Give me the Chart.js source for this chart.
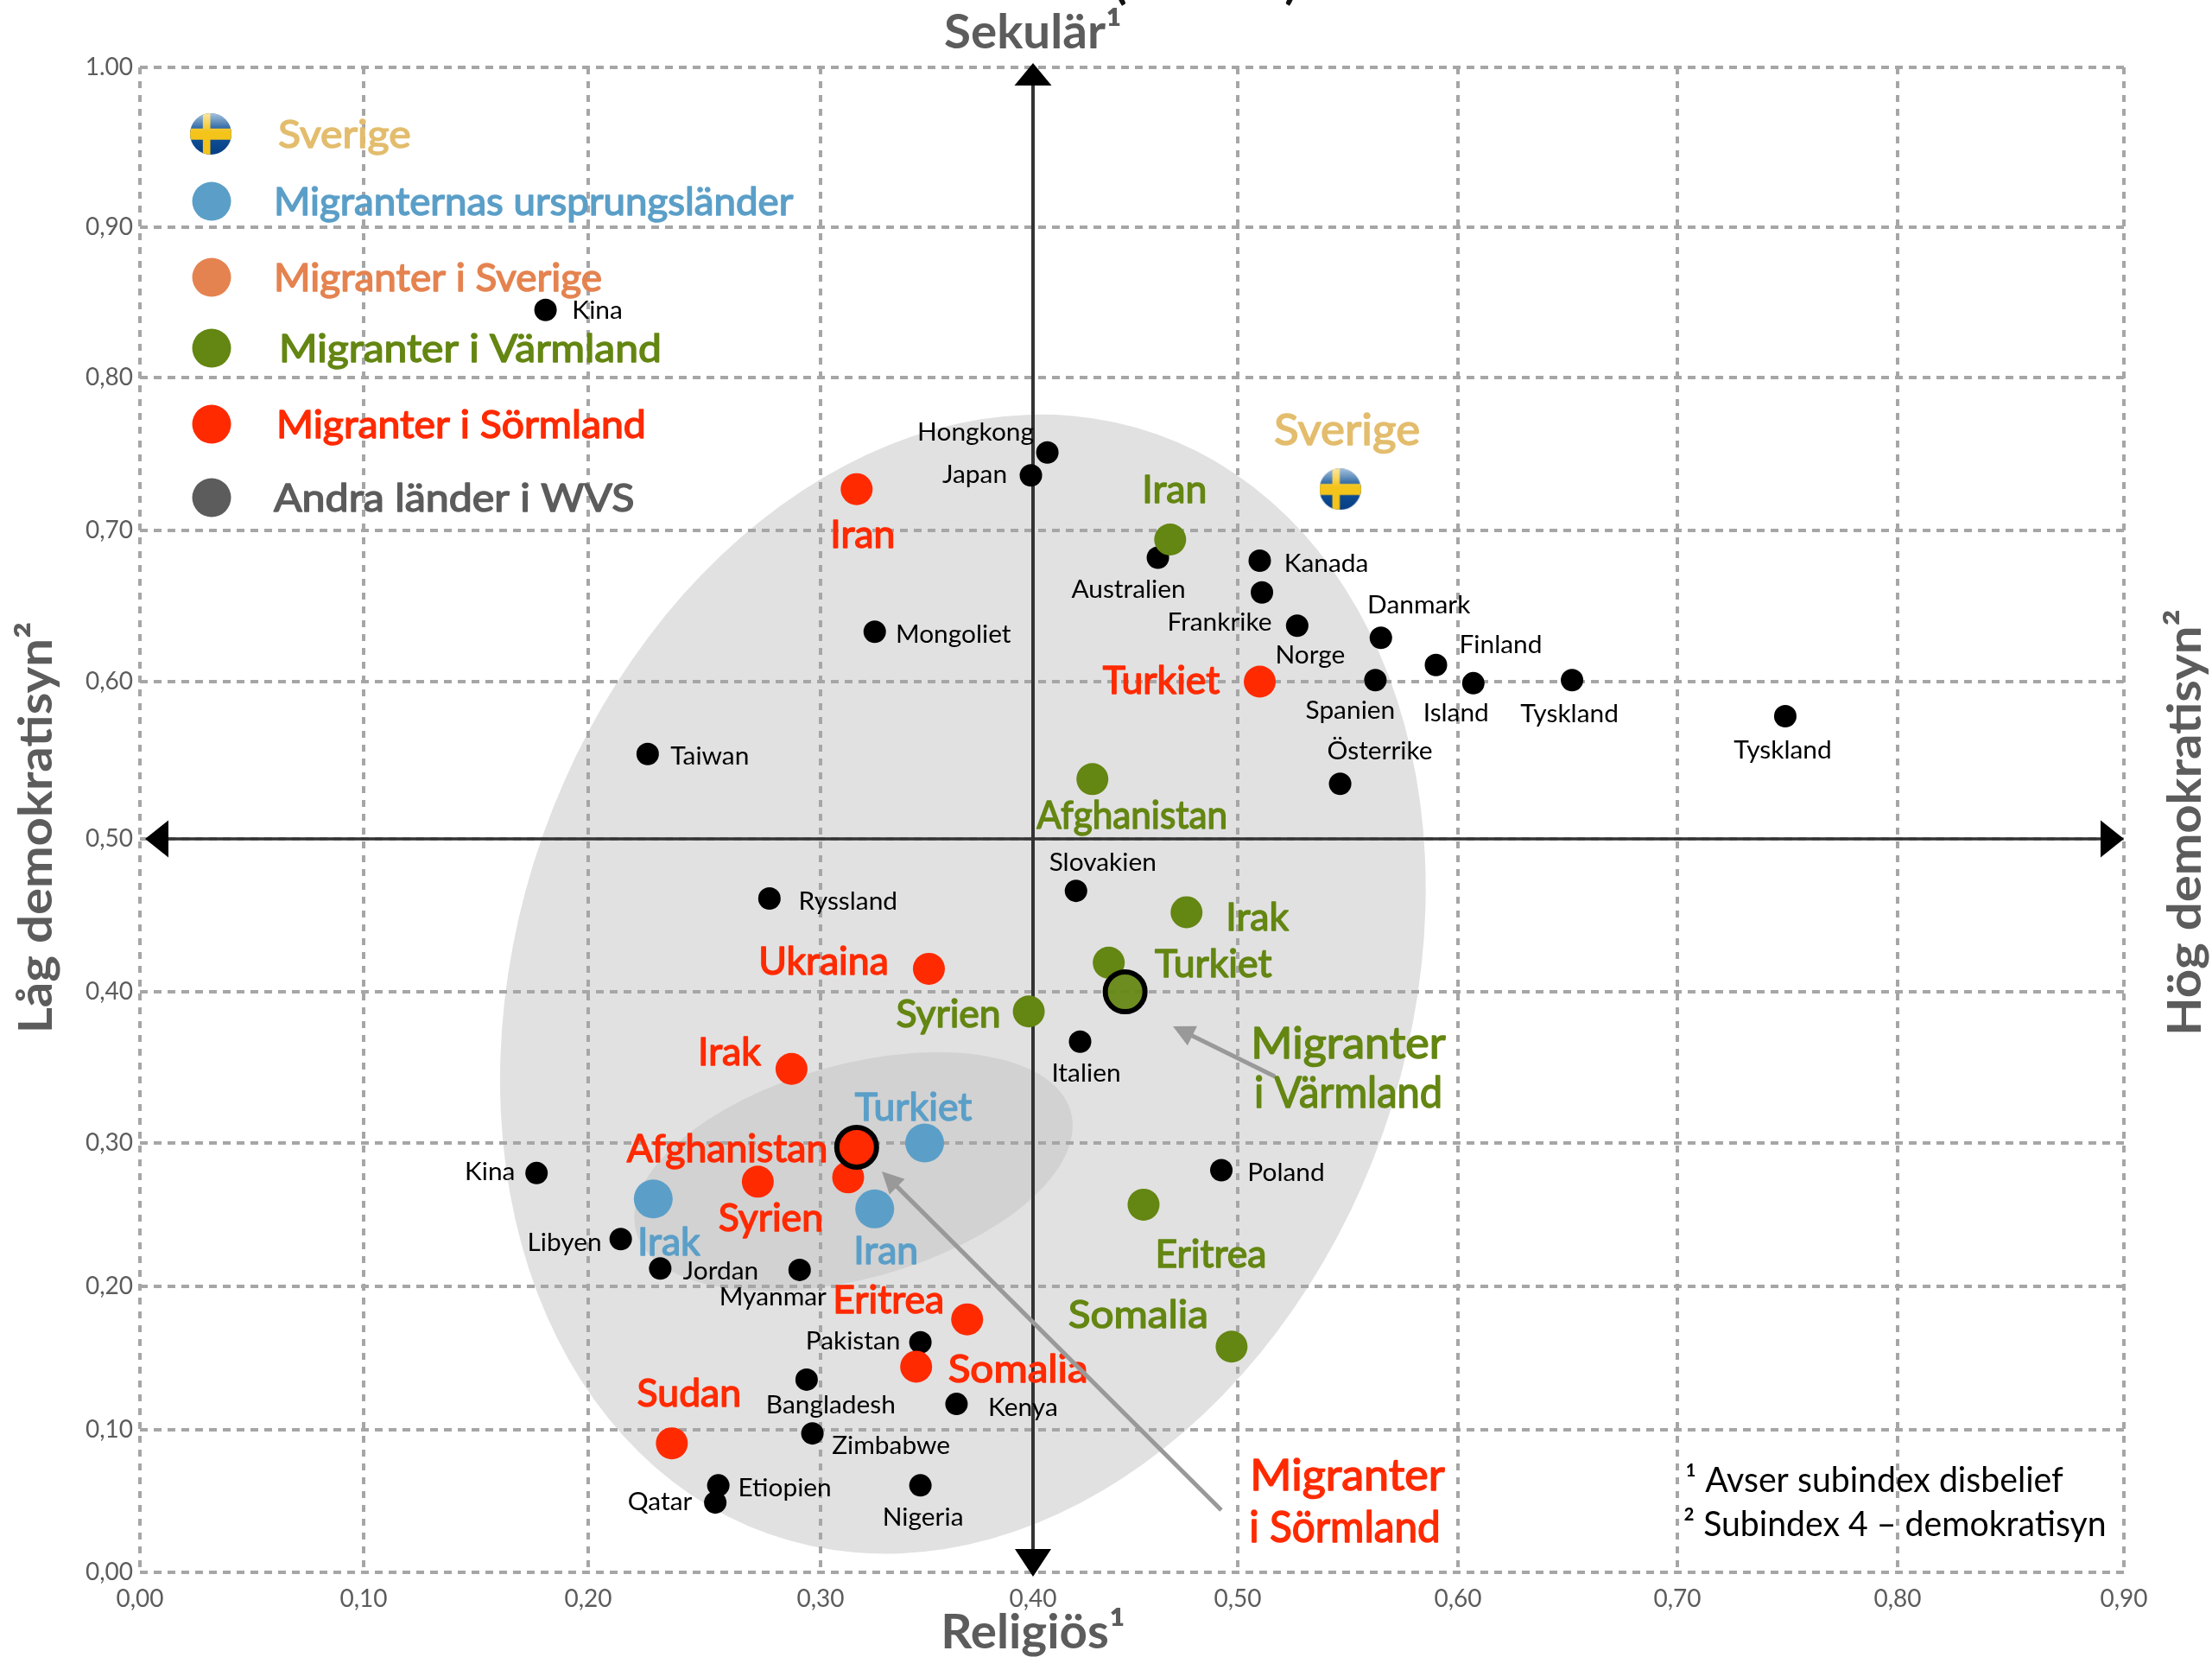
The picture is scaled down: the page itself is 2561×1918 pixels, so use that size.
<!DOCTYPE html>
<html lang="sv">
<head>
<meta charset="UTF-8">
<title>Sekulär / demokratisyn</title>
<script src="https://cdn.jsdelivr.net/npm/chart.js"></script>
<style>
  html, body { margin: 0; background: #fff; }
  canvas { display: block; }
</style>
</head>
<body>
<canvas id="chart" width="2561" height="1918"></canvas>
<script>
// tick labels, as printed in the picture (the top one really has a dot)
const xTickLabels = ['0,00','0,10','0,20','0,30','0,40','0,50','0,60','0,70','0,80','0,90'];
const yTickLabels = ['0,00','0,10','0,20','0,30','0,40','0,50','0,60','0,70','0,80','0,90','1.00'];

// andra länder i WVS
const wvsNames = ['Kina','Hongkong','Japan','Australien','Kanada','Frankrike','Norge','Danmark','Finland','Island','Tyskland','Tyskland','Spanien','Österrike','Mongoliet','Taiwan','Ryssland','Slovakien','Italien','Poland','Kina','Libyen','Jordan','Myanmar','Pakistan','Bangladesh','Kenya','Zimbabwe','Etiopien','Qatar','Nigeria'];
const wvsX = [.181,.407,.399,.461,.510,.511,.527,.565,.590,.607,.652,.749,.5625,.5465,.3255,.2256,.278,.421,.423,.492,.177,.214,.231,.291,.347,.294,.364,.2965,.256,.2547,.347];
const wvsY = [.845,.751,.736,.682,.680,.659,.637,.629,.611,.599,.601,.578,.601,.535,.633,.554,.461,.466,.367,.281,.279,.233,.2125,.2115,.161,.135,.118,.0975,.061,.049,.061];

const originNames = ['Turkiet','Irak','Iran'];
const originX = [.349,.228,.3255];
const originY = [.300,.261,.254];

const varmlandNames = ['Iran','Afghanistan','Irak','Turkiet','Syrien','Eritrea','Somalia'];
const varmlandX = [.467,.429,.475,.437,.398,.454,.497];
const varmlandY = [.694,.538,.452,.419,.387,.257,.158];

const sormlandNames = ['Iran','Turkiet','Ukraina','Irak','Syrien','Afghanistan','Eritrea','Somalia','Sudan'];
const sormlandX = [.317,.510,.351,.2875,.273,.313,.369,.345,.236];
const sormlandY = [.727,.600,.415,.349,.273,.276,.177,.144,.0905];

const sverigeX = [.5465];
const sverigeY = [.727];

// medelvärden med svart ring
const meanVarmlandX = [.445];
const meanVarmlandY = [.400];
const meanSormlandX = [.317];
const meanSormlandY = [.297];

const legendNames = ['Sverige','Migranternas ursprungsländer','Migranter i Sverige','Migranter i Värmland','Migranter i Sörmland','Andra länder i WVS'];

// ---------- styling / layout below here ----------
const GOLD = '#e3bd6d', BLUE = '#5b9fc8', ORANGE = '#e58350', GREEN = '#648612', RED = '#ff2a00', GREY = '#5c5c5c';
const FONT = 'Lato';

// the grid in the original isn't evenly spaced, so keep where each tick sits
const gridPixels = {
  x: [162, 421, 681, 950, 1196, 1433, 1688, 1942, 2197, 2459],
  y: [1820, 1655, 1489, 1323, 1148, 971, 789, 614, 437, 263, 78]
};

class GridScale extends Chart.LinearScale {
  static id = 'gridscale';
  static defaults = Chart.LinearScale.defaults;
  getPixelForValue(value) {
    const k = gridPixels[this.id];
    const pos = value / 0.1;
    const i = Math.max(0, Math.min(k.length - 2, Math.floor(pos)));
    const px = k[i] + (k[i + 1] - k[i]) * (pos - i);
    return this.getPixelForDecimal((px - k[0]) / (k[k.length - 1] - k[0]));
  }
}
Chart.register(GridScale);

// label offset from its point, [dx, dy] to the middle of the text
const wvsOffsets = [[60,0],[-83,-24],[-65,-2],[-34,36],[77,2],[-49,34],[15,33],[44,-39],[75,-24],[-20,34],[-3,38],[-3,38],[-29,34],[46,-39],[91,2],[72,2],[91,2],[31,-34],[7,36],[75,2],[-54,-2],[-65,3],[70,2],[-31,31],[-78,-2],[28,29],[77,3],[91,13],[77,2],[-64,-2],[3,36]];
const originOffsets = [[-13,-42],[18,49],[13,47]];
const varmlandOffsets = [[5,-59],[46,41],[82,5],[121,0],[-93,2],[78,56],[-108,-38]];
const sormlandOffsets = [[7,51],[-114,-2],[-122,-10],[-72,-21],[15,41],[-140,-34],[-91,-23],[118,2],[20,-59]];

function flagCanvas(r) {
  const c = document.createElement('canvas');
  c.width = c.height = r * 2;
  const g = c.getContext('2d');
  g.beginPath();
  g.arc(r, r, r, 0, Math.PI * 2);
  g.clip();
  const bg = g.createLinearGradient(0, 0, 0, r * 2);
  bg.addColorStop(0, '#1f64a6');
  bg.addColorStop(1, '#063f86');
  g.fillStyle = bg;
  g.fillRect(0, 0, r * 2, r * 2);
  g.fillStyle = '#f4c41a';
  g.fillRect(r * 0.62, 0, r * 0.36, r * 2);
  g.fillRect(0, r * 0.74, r * 2, r * 0.54);
  const shine = g.createLinearGradient(0, 0, 0, r * 0.9);
  shine.addColorStop(0, 'rgba(255,255,255,.6)');
  shine.addColorStop(1, 'rgba(255,255,255,0)');
  g.fillStyle = shine;
  g.fillRect(0, 0, r * 2, r * 0.9);
  return c;
}
const flagPoint = flagCanvas(24);

function pts(xs, ys) {
  return xs.map((x, i) => ({ x: x, y: ys[i] }));
}

// text squeezed sideways, the original font (Gill Sans) has other widths than Lato.
// Big coloured labels get a thin outline since the original is heavier
function putText(ctx, text, x, y, size, color, squeeze, weight) {
  ctx.save();
  ctx.translate(x, y + size * 0.04);
  ctx.scale(squeeze, 1);
  ctx.font = (weight || 'normal') + ' ' + size + 'px ' + FONT;
  ctx.fillStyle = color;
  ctx.textBaseline = 'middle';
  ctx.fillText(text, 0, 0);
  if (size >= 44 && !weight) {
    ctx.strokeStyle = color;
    ctx.lineWidth = 1.5;
    ctx.lineJoin = 'round';
    ctx.strokeText(text, 0, 0);
  }
  ctx.restore();
}

function centerText(ctx, text, x, y, size, color, squeeze, weight) {
  ctx.save();
  ctx.textAlign = 'center';
  putText(ctx, text, x, y, size, color, squeeze, weight);
  ctx.restore();
}

function arrow(ctx, x1, y1, x2, y2, color, headColor, width, head, halfWidth) {
  const a = Math.atan2(y2 - y1, x2 - x1);
  ctx.save();
  ctx.strokeStyle = color;
  ctx.fillStyle = headColor;
  ctx.lineWidth = width;
  ctx.beginPath();
  ctx.moveTo(x1, y1);
  ctx.lineTo(x2 - Math.cos(a) * head * 0.8, y2 - Math.sin(a) * head * 0.8);
  ctx.stroke();
  ctx.translate(x2, y2);
  ctx.rotate(a);
  ctx.beginPath();
  ctx.moveTo(0, 0);
  ctx.lineTo(-head, -halfWidth);
  ctx.lineTo(-head, halfWidth);
  ctx.closePath();
  ctx.fill();
  ctx.restore();
}

const backdrop = {
  id: 'backdrop',
  beforeDraw(chart) {
    const ctx = chart.ctx, xs = chart.scales.x, ys = chart.scales.y;
    ctx.save();
    ctx.fillStyle = '#e1e1e1';
    ctx.beginPath();
    ctx.ellipse(xs.getPixelForValue(.367), ys.getPixelForValue(.405), 675, 516, -70.6 * Math.PI / 180, 0, Math.PI * 2);
    ctx.fill();
    ctx.fillStyle = '#d2d2d2';
    ctx.beginPath();
    ctx.ellipse(xs.getPixelForValue(.3155), ys.getPixelForValue(.280), 261, 124, -15.4 * Math.PI / 180, 0, Math.PI * 2);
    ctx.fill();
    ctx.restore();
  }
};

const overlay = {
  id: 'overlay',
  beforeDatasetsDraw(chart) {
    const ctx = chart.ctx, xs = chart.scales.x, ys = chart.scales.y;
    // the two main axes crossing at 0,40 / 0,50
    const cx = xs.getPixelForValue(.40), cy = ys.getPixelForValue(.50);
    arrow(ctx, cx, cy, cx, 73, '#333', '#000', 4, 26, 21.5);
    arrow(ctx, cx, cy, cx, 1825, '#333', '#000', 4, 32, 21);
    arrow(ctx, cx, cy, 168, cy, '#333', '#000', 3.5, 27, 21.5);
    arrow(ctx, cx, cy, 2459, cy, '#333', '#000', 3.5, 27, 21.5);
  },
  afterDatasetsDraw(chart) {
    const ctx = chart.ctx, xs = chart.scales.x, ys = chart.scales.y;

    function labels(names, xv, yv, off, size, color, squeeze) {
      names.forEach((n, i) => {
        // Somalia runs wider in the original, green Afghanistan narrower
        let sq = squeeze;
        if (n === 'Somalia') sq = 1.06;
        if (n === 'Afghanistan' && color === GREEN) sq = 0.94;
        centerText(ctx, n, xs.getPixelForValue(xv[i]) + off[i][0], ys.getPixelForValue(yv[i]) + off[i][1], size, color, sq);
      });
    }
    labels(wvsNames, wvsX, wvsY, wvsOffsets, 29, '#000', 1.03);
    labels(originNames, originX, originY, originOffsets, 45, BLUE, 0.99);
    labels(varmlandNames, varmlandX, varmlandY, varmlandOffsets, 45, GREEN, 0.99);
    labels(sormlandNames, sormlandX, sormlandY, sormlandOffsets, 45, RED, 0.99);
    centerText(ctx, 'Sverige', xs.getPixelForValue(sverigeX[0]) + 8, ys.getPixelForValue(sverigeY[0]) - 69, 50, GOLD, 1.06);

    // callouts
    centerText(ctx, 'Migranter', 1561, 1207, 50, GREEN, 1.04);
    centerText(ctx, 'i Värmland', 1561, 1264, 50, GREEN, 0.94);
    centerText(ctx, 'Migranter', 1560, 1707, 50, RED, 1.04);
    centerText(ctx, 'i Sörmland', 1557, 1767, 50, RED, 0.955);
    arrow(ctx, 1476, 1246, 1358, 1188, '#999', '#999', 5, 25, 12.5);
    arrow(ctx, 1414, 1748, 1021, 1356, '#999', '#999', 5, 25, 12.5);

    // legend, hand placed in the upper left
    const legendY = [155, 233, 321, 403, 491, 576];
    const legendTextX = [322, 317, 317, 323, 320, 317];
    const legendSqueeze = [1.07, 1.015, 1.02, 1.066, 1.03, 1.074];
    const legendColor = [GOLD, BLUE, ORANGE, GREEN, RED, GREY];
    legendNames.forEach((n, i) => {
      if (i === 0) {
        ctx.drawImage(flagPoint, 244 - 24, legendY[i] - 24);
      } else {
        ctx.fillStyle = legendColor[i];
        ctx.beginPath();
        ctx.arc(245, legendY[i], 22.5, 0, Math.PI * 2);
        ctx.fill();
      }
      putText(ctx, n, legendTextX[i], legendY[i], 45, legendColor[i], legendSqueeze[i]);
    });

    // axis titles
    centerText(ctx, 'Sekulär¹', 1196, 36, 56, GREY, 1.01, 'bold');
    centerText(ctx, 'Religiös¹', 1196, 1888, 56, GREY, 1.01, 'bold');
    [['Låg demokratisyn²', 40, 958], ['Hög demokratisyn²', 2528, 952]].forEach(t => {
      ctx.save();
      ctx.translate(t[1], t[2]);
      ctx.rotate(-Math.PI / 2);
      centerText(ctx, t[0], 0, 0, 54, GREY, 1.075, 'bold');
      ctx.restore();
    });

    // tips of the cropped brackets above the chart
    centerText(ctx, '(', 1297, -22, 56, '#111', 1, 'bold');
    centerText(ctx, ')', 1495, -22, 56, '#111', 1, 'bold');

    // footnotes
    putText(ctx, '¹ Avser subindex disbelief', 1951, 1712, 40, '#000', 0.98);
    putText(ctx, '² Subindex 4 – demokratisyn', 1949, 1763, 40, '#000', 0.98);
  }
};

new Chart(document.getElementById('chart'), {
  type: 'scatter',
  data: {
    datasets: [
      { label: 'Migranter i Sörmland, medel', data: pts(meanSormlandX, meanSormlandY), backgroundColor: RED, borderColor: '#000', borderWidth: 6, pointRadius: 23 },
      { label: 'Migranter i Värmland, medel', data: pts(meanVarmlandX, meanVarmlandY), backgroundColor: 'rgba(100,134,18,.93)', borderColor: '#000', borderWidth: 6, pointRadius: 23 },
      { label: 'Migranter i Sörmland', data: pts(sormlandX, sormlandY), backgroundColor: RED, pointRadius: 18.5, borderWidth: 0 },
      { label: 'Migranter i Värmland', data: pts(varmlandX, varmlandY), backgroundColor: GREEN, pointRadius: 18.5, borderWidth: 0 },
      { label: 'Migranternas ursprungsländer', data: pts(originX, originY), backgroundColor: BLUE, pointRadius: 22.5, borderWidth: 0 },
      { label: 'Sverige', data: pts(sverigeX, sverigeY), pointStyle: flagPoint },
      { label: 'Andra länder i WVS', data: pts(wvsX, wvsY), backgroundColor: '#000', pointRadius: 13, borderWidth: 0 }
    ]
  },
  options: {
    responsive: false,
    animation: false,
    layout: { padding: { top: 78, right: 102, left: 0, bottom: 0 } },
    plugins: { legend: { display: false }, tooltip: { enabled: false } },
    scales: {
      x: {
        type: 'gridscale',
        min: 0,
        max: 0.9,
        afterFit(s) { s.height = 98; },
        grid: { color: '#a6a6a6', lineWidth: 4, drawTicks: false },
        border: { display: false, dash: [8, 8] },
        ticks: {
          stepSize: 0.1,
          padding: 14,
          maxRotation: 0,
          autoSkip: false,
          color: GREY,
          font: { family: FONT, size: 28 },
          callback: (v, i) => xTickLabels[i]
        }
      },
      y: {
        type: 'gridscale',
        min: 0,
        max: 1,
        afterFit(s) { s.width = 162; },
        grid: { color: '#a6a6a6', lineWidth: 4, drawTicks: false },
        border: { display: false, dash: [9, 7] },
        ticks: {
          stepSize: 0.1,
          padding: 8,
          autoSkip: false,
          color: GREY,
          font: { family: FONT, size: 28 },
          callback: (v, i) => yTickLabels[i]
        }
      }
    }
  },
  plugins: [backdrop, overlay]
});
</script>
</body>
</html>
